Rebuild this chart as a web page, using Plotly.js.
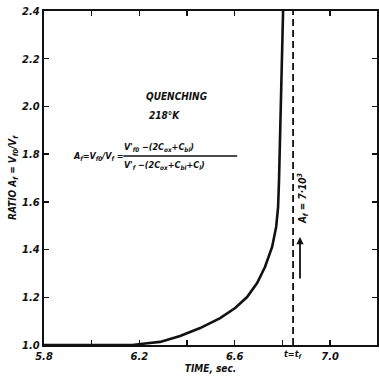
<!DOCTYPE html>
<html><head><meta charset="utf-8">
<script src="https://cdn.plot.ly/plotly-3.0.1.min.js"></script>
<style>html,body{margin:0;padding:0;background:#fff}#c{width:379px;height:378px}</style>
</head><body><div id="c"></div>
<script>
// Curve: ratio A vs time (sec)
const timeSec = [5.80, 6.00, 6.17, 6.224, 6.287, 6.371, 6.455, 6.539, 6.602, 6.652, 6.694, 6.727, 6.757, 6.774, 6.782, 6.786, 6.795, 6.803];
const ratioA  = [1.00, 1.00, 1.00, 1.006, 1.013, 1.038, 1.071, 1.113, 1.155, 1.201, 1.260, 1.327, 1.411, 1.495, 1.578, 1.692, 2.027, 2.40];
// dashed line at t = t_f
const tfTime = [6.845, 6.845];
const tfRatio = [1.0, 2.4];
const xTickVals = [5.8, 6.0, 6.2, 6.4, 6.6, 6.8, 7.0];
const xTickText = ['5.8', '', '6.2', '', '6.6', '', '7.0'];
const yTickVals = [1.0, 1.2, 1.4, 1.6, 1.8, 2.0, 2.2, 2.4];
const yTickText = ['1.0', '1.2', '1.4', '1.6', '1.8', '2.0', '2.2', '2.4'];

const F = 'Liberation Sans Narrow, DejaVu Sans Condensed, Arial, sans-serif';
const font = (s) => ({family: F, size: s, color: '#111', weight: 'bold', style: 'italic'});

const traces = [
  {x: timeSec, y: ratioA, mode: 'lines', line: {color: '#111', width: 2.6, shape: 'linear'}, hoverinfo: 'skip'},
  {x: tfTime, y: tfRatio, mode: 'lines', line: {color: '#111', width: 1.8, dash: '7px,4px'}, hoverinfo: 'skip'}
];

const layout = {
  width: 379, height: 378,
  margin: {l: 44, r: 2, t: 11, b: 33},
  paper_bgcolor: '#fff', plot_bgcolor: '#fff',
  showlegend: false,
  xaxis: {
    range: [5.8, 7.197], tickvals: xTickVals, ticktext: xTickText,
    ticks: 'inside', ticklen: 5, tickwidth: 1.5, tickcolor: '#111',
    showline: true, linewidth: 2.2, linecolor: '#111', mirror: 'ticks',
    showgrid: false, zeroline: false, tickfont: font(11),
    title: {text: 'TIME, sec.', font: font(10), standoff: 2}
  },
  yaxis: {
    range: [1.0, 2.4], tickvals: yTickVals, ticktext: yTickText,
    ticks: 'inside', ticklen: 5, tickwidth: 1.5, tickcolor: '#111',
    showline: true, linewidth: 2.2, linecolor: '#111', mirror: 'ticks',
    showgrid: false, zeroline: false, tickfont: font(11),
    title: {text: 'RATIO A<sub>f</sub> = V<sub>f0</sub>/V<sub>f</sub>', font: font(10), standoff: 4}
  },
  annotations: [
    {xref: 'paper', yref: 'paper', x: 0.30, y: 0.765, text: 'QUENCHING', showarrow: false, font: font(10)},
    {xref: 'paper', yref: 'paper', x: 0.31, y: 0.71, text: '218°K', showarrow: false, font: font(10)},
    {xref: 'paper', yref: 'paper', x: 0.08, y: 0.565, xanchor: 'left', text: 'A<sub>f</sub>=V<sub>f0</sub>/V<sub>f</sub> =', showarrow: false, font: font(9)},
    {xref: 'paper', yref: 'paper', x: 0.235, y: 0.592, xanchor: 'left', text: 'V\'<sub>f0</sub> −(2C<sub>ox</sub>+C<sub>bl</sub>)', showarrow: false, font: font(9)},
    {xref: 'paper', yref: 'paper', x: 0.235, y: 0.537, xanchor: 'left', text: 'V\'<sub>f</sub> −(2C<sub>ox</sub>+C<sub>bl</sub>+C<sub>l</sub>)', showarrow: false, font: font(9)},
    {xref: 'paper', yref: 'paper', x: 0.805, y: 0.44, text: 'A<sub>f</sub> = 7·10<sup>3</sup>', textangle: -90, showarrow: false, font: font(10)},
    {xref: 'x', yref: 'y', x: 6.874, y: 1.453, ax: 6.874, ay: 1.272, axref: 'x', ayref: 'y', text: '', showarrow: true, arrowhead: 2, arrowsize: 0.8, arrowwidth: 1.8, arrowcolor: '#111'},
    {xref: 'x', yref: 'paper', x: 6.845, y: -0.005, yanchor: 'top', text: 't=t<sub>f</sub>', showarrow: false, font: font(9)}
  ],
  shapes: [
    {type: 'line', xref: 'paper', yref: 'paper', x0: 0.238, x1: 0.58, y0: 0.566, y1: 0.566, line: {color: '#111', width: 1.4}}
  ]
};
Plotly.newPlot('c', traces, layout, {staticPlot: true, displayModeBar: false});
</script></body></html>
